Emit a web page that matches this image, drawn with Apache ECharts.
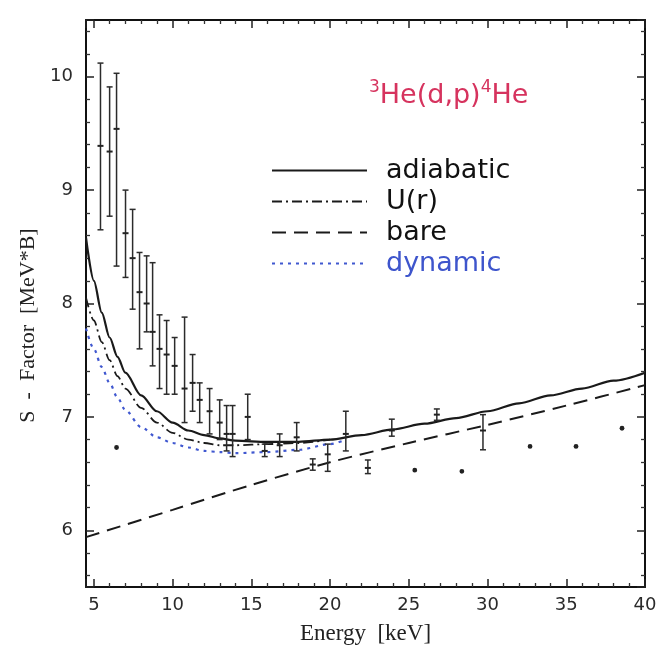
<!DOCTYPE html>
<html><head><meta charset="utf-8">
<script src="https://cdn.jsdelivr.net/npm/echarts@6/dist/echarts.min.js"></script>
<style>html,body{margin:0;padding:0;background:#fff}#chart{width:658px;height:653px}</style>
</head><body><div id="chart"></div>
<script>
// Measured data points (energy keV, S-factor, error low, error high)
const dataEnergy = [5.42,6.00,6.44,6.44,7.01,7.46,7.90,8.35,8.73,9.17,9.62,10.13,10.76,11.27,11.72,12.35,12.99,13.43,13.81,14.77,15.85,16.80,17.88,18.90,19.85,21.00,22.40,23.92,25.38,26.78,28.37,29.71,32.70,35.62,38.54];
const dataS      = [9.39,9.34,9.54,6.73,8.62,8.40,8.10,8.00,7.75,7.60,7.55,7.45,7.25,7.30,7.15,7.05,6.95,6.85,6.85,7.00,6.70,6.75,6.82,6.58,6.67,6.85,6.55,6.88,6.53,7.02,6.52,6.88,6.74,6.74,6.90];
const dataLow    = [8.65,8.77,8.33,6.73,8.23,7.95,7.60,7.75,7.45,7.25,7.20,7.20,6.95,7.05,6.95,6.85,6.80,6.70,6.65,6.80,6.65,6.65,6.70,6.53,6.52,6.70,6.50,6.83,6.53,6.97,6.52,6.71,6.74,6.74,6.90];
const dataHigh   = [10.12,9.91,10.03,6.73,9.00,8.83,8.45,8.42,8.36,7.90,7.85,7.70,7.88,7.55,7.30,7.25,7.15,7.10,7.10,7.20,6.76,6.85,6.95,6.63,6.76,7.05,6.62,6.98,6.53,7.07,6.52,7.02,6.74,6.74,6.90];

// Model curves
const adiabaticE = [4.5,5,5.5,6,6.5,7,8,9,10,11,12,13,14,16,18,20,22,24,26,28,30,32,34,36,38,40];
const adiabaticS = [8.58,8.2,7.92,7.7,7.53,7.39,7.19,7.05,6.95,6.88,6.84,6.81,6.79,6.78,6.78,6.8,6.84,6.89,6.94,6.99,7.05,7.12,7.19,7.25,7.32,7.39];
const urE = [4.5,5,5.5,6,6.5,7,8,9,10,11,12,13,14,16,18,20];
const urS = [8.05,7.85,7.66,7.5,7.36,7.25,7.08,6.95,6.86,6.8,6.77,6.75,6.75,6.76,6.77,6.8];
const bareE = [4.5,10,15,20,25,30,35,40];
const bareS = [5.94,6.18,6.4,6.6,6.77,6.93,7.1,7.28];
const dynamicE = [4.5,5,5.5,6,6.5,7,8,9,10,11,12,13,14,16,18,20,21];
const dynamicS = [7.78,7.6,7.44,7.3,7.17,7.06,6.91,6.82,6.77,6.73,6.7,6.69,6.68,6.69,6.71,6.76,6.8];

const seriesNames = ['adiabatic','U(r)','bare','dynamic'];
const xRange = [4.5, 40];
const yRange = [5.5, 10.5];

const zip = (a,b) => a.map((v,i)=>[v,b[i]]);
const chart = echarts.init(document.getElementById('chart'));

const tickFont = {fontFamily:'DejaVu Sans', fontSize:18, color:'#2a2a2a'};
function axisBase(extra){
  return Object.assign({
    type:'value',
    axisLine:{show:true, onZero:false, lineStyle:{color:'#111', width:2}},
    axisTick:{show:true, inside:true, length:8, lineStyle:{color:'#222', width:1.5}},
    minorTick:{show:true, splitNumber:5, length:4, lineStyle:{color:'#333', width:1.3}},
    splitLine:{show:false}
  }, extra);
}

function renderErrorBar(params, api){
  const x = api.value(0), s = api.value(1), lo = api.value(2), hi = api.value(3);
  const pC = api.coord([x, s]), pL = api.coord([x, lo]), pH = api.coord([x, hi]);
  const st = {stroke:'#2b2b2b', lineWidth:1.5};
  const ch = [];
  if (hi > lo) {
    ch.push({type:'line', shape:{x1:pL[0],y1:pL[1],x2:pH[0],y2:pH[1]}, style:st});
    ch.push({type:'line', shape:{x1:pL[0]-3,y1:pL[1],x2:pL[0]+3,y2:pL[1]}, style:st});
    ch.push({type:'line', shape:{x1:pH[0]-3,y1:pH[1],x2:pH[0]+3,y2:pH[1]}, style:st});
    ch.push({type:'line', shape:{x1:pC[0]-3,y1:pC[1],x2:pC[0]+3,y2:pC[1]}, style:{stroke:'#222', lineWidth:2}});
  } else {
    ch.push({type:'circle', shape:{cx:pC[0], cy:pC[1], r:2.4}, style:{fill:'#222'}});
  }
  return {type:'group', children:ch};
}

chart.setOption({
  animation:false,
  backgroundColor:'#fff',
  title:{
    text:'{s|3}He(d,p){s|4}He',
    left:364, top:74,
    textStyle:{fontFamily:'DejaVu Sans', fontSize:27, fontWeight:'normal', color:'#d6335e',
      rich:{s:{fontSize:17, color:'#d6335e', verticalAlign:'top', padding:[0,0,16,0]}}}
  },
  legend:{
    orient:'vertical', left:266, top:152,
    itemWidth:95, itemHeight:20, itemGap:4,
    itemStyle:{color:'rgba(0,0,0,0)', borderColor:'rgba(0,0,0,0)', borderWidth:0, opacity:0},
    textStyle:{fontFamily:'DejaVu Sans', fontSize:27, lineHeight:24, color:'#111', padding:[0,0,0,14]},
    data:[
      {name:seriesNames[0]},
      {name:seriesNames[1]},
      {name:seriesNames[2]},
      {name:seriesNames[3], textStyle:{color:'#3e55cc'}}
    ]
  },
  grid:{left:86, right:13, top:20, bottom:66, outerBoundsMode:'none'},
  xAxis:[
    axisBase({min:xRange[0], max:xRange[1], splitNumber:7, position:'bottom',
      name:'Energy  [keV]', nameLocation:'middle', nameGap:35,
      nameTextStyle:{fontFamily:'Liberation Serif', fontSize:23, color:'#222'},
      axisLabel:Object.assign({margin:9, showMinLabel:false}, tickFont)}),
    axisBase({min:xRange[0], max:xRange[1], splitNumber:7, position:'top', axisLabel:{show:false}})
  ],
  yAxis:[
    axisBase({min:yRange[0], max:yRange[1], splitNumber:5, position:'left',
      name:'S  -  Factor  [MeV*B]        ', nameLocation:'middle', nameGap:47,
      nameTextStyle:{fontFamily:'Liberation Serif', fontSize:22, color:'#222'},
      axisLabel:Object.assign({margin:13, showMinLabel:false, showMaxLabel:false}, tickFont)}),
    axisBase({min:yRange[0], max:yRange[1], splitNumber:5, position:'right', axisLabel:{show:false}})
  ],
  series:[
    {name:seriesNames[0], type:'line', data:zip(adiabaticE, adiabaticS), symbol:'none', smooth:0.3, smoothMonotone:'x',
      lineStyle:{color:'#1a1a1a', width:2.2}, itemStyle:{color:'#1a1a1a'}, z:4},
    {name:seriesNames[1], type:'line', data:zip(urE, urS), symbol:'none', smooth:0.3, smoothMonotone:'x',
      lineStyle:{color:'#1a1a1a', width:1.8, type:[10,4,2,4]}, itemStyle:{color:'#1a1a1a'}, z:4},
    {name:seriesNames[2], type:'line', data:zip(bareE, bareS), symbol:'none', smooth:0.3,
      lineStyle:{color:'#1a1a1a', width:2, type:[14,8]}, itemStyle:{color:'#1a1a1a'}, z:4},
    {name:seriesNames[3], type:'line', data:zip(dynamicE, dynamicS), symbol:'none', smooth:0.3, smoothMonotone:'x',
      lineStyle:{color:'#4058d0', width:2.2, type:[3,5]}, itemStyle:{color:'#4058d0'}, z:4},
    {name:'data', type:'custom', renderItem:renderErrorBar, clip:true,
      data:dataEnergy.map((e,i)=>[e, dataS[i], dataLow[i], dataHigh[i]]),
      encode:{x:0, y:1}, z:5}
  ]
});
</script></body></html>
